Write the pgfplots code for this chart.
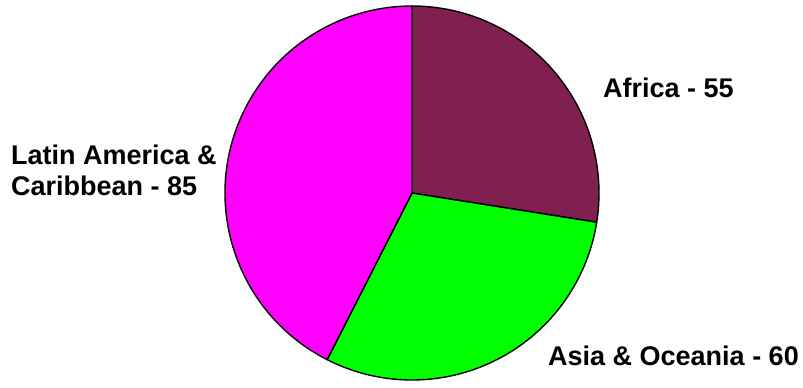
\documentclass[border=0pt]{standalone}
\usepackage{pgfplots}
\usepackage{pgfplotstable}
\pgfplotsset{compat=1.18}
\usepackage{fontspec}
\setmainfont{Liberation Sans}
\definecolor{africa}{HTML}{802050}
\definecolor{asia}{HTML}{00FF00}
\definecolor{latin}{HTML}{FF00FF}
\pgfplotstableread{
region value
Africa 55
Asia 60
Latin 85
}\pietable
\begin{document}
\begin{tikzpicture}
\pgfplotstablegetelem{0}{value}\of\pietable \let\va\pgfplotsretval
\pgfplotstablegetelem{1}{value}\of\pietable \let\vb\pgfplotsretval
\pgfplotstablegetelem{2}{value}\of\pietable \let\vc\pgfplotsretval
\pgfmathsetmacro\tot{\va+\vb+\vc}
\pgfmathsetmacro\aA{90-\va/\tot*360}
\pgfmathsetmacro\aB{\aA-\vb/\tot*360}
\pgfmathsetmacro\aC{\aB-\vc/\tot*360}
\begin{axis}[scale only axis, width=803pt, height=383pt,
  xmin=0, xmax=803, ymin=0, ymax=383, hide axis, clip=false]
\path (axis cs:0,0) rectangle (axis cs:803,383);
\filldraw[fill=africa, draw=black, line width=1.4pt, line join=round]
  (axis cs:412,190) -- ++(90:187pt) arc[start angle=90, end angle=\aA, radius=187pt] -- cycle;
\filldraw[fill=asia, draw=black, line width=1.4pt, line join=round]
  (axis cs:412,190) -- ++(\aA:187pt) arc[start angle=\aA, end angle=\aB, radius=187pt] -- cycle;
\filldraw[fill=latin, draw=black, line width=1.4pt, line join=round]
  (axis cs:412,190) -- ++(\aB:187pt) arc[start angle=\aB, end angle=\aC, radius=187pt] -- cycle;
\node[anchor=base west, inner sep=0pt, font=\fontsize{27}{31}\selectfont\bfseries]
  at (axis cs:603,286) {Africa - 55};
\node[anchor=base west, inner sep=0pt, font=\fontsize{27}{31}\selectfont\bfseries]
  at (axis cs:11,219) {Latin America \&};
\node[anchor=base west, inner sep=0pt, font=\fontsize{27}{31}\selectfont\bfseries]
  at (axis cs:11,188) {Caribbean - 85};
\node[anchor=base east, inner sep=0pt, font=\fontsize{27}{31}\selectfont\bfseries]
  at (axis cs:799,18) {Asia \& Oceania - 60};
\end{axis}
\end{tikzpicture}
\end{document}
